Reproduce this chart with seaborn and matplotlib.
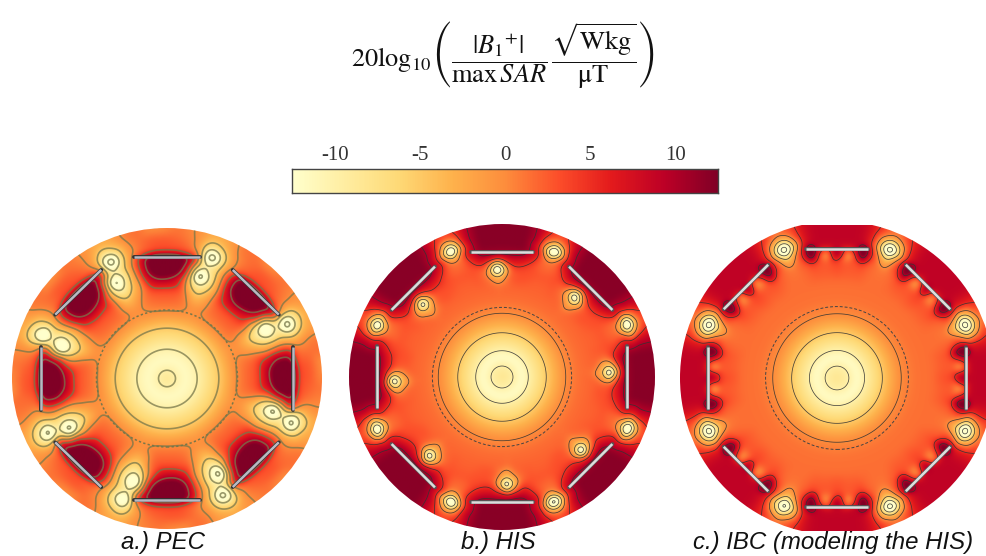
import numpy as np
import seaborn as sns
import matplotlib
matplotlib.use("Agg")
import matplotlib.pyplot as plt
import matplotlib.tri as mtri
from matplotlib.patches import Circle

# one 45 degree sector of each map (dB)
# angle is clockwise from the coil centre, radius is relative to the phantom radius
pec_angles = [0, 5, 10, 14, 17, 20, 24, 29, 34, 40]
pec_radii = [0, .06, .12, .20, .29, .34, .38, .44, .50, .58, .66, .72, .77, .81, .85, .90, .95, 1.0]
pec_values = [
    [-8.0] * 10,
    [-10.0] * 10,
    [-12.0] * 10,
    [-10.0] * 10,
    [-6.5] * 10,
    [-5.0] * 10,
    [-3.0] * 10,
    [-.2, -.2, -.2, -.4, -.6, -.6, -.5, -.3, -.2, -.2],
    [1.5, 1.5, 1.2, .5, -.3, -.4, -.2, .5, 1.2, 1.5],
    [3, 3, 2, -1.5, -4, -4.5, -2.5, .5, 2.5, 3],
    [10, 8, 1.5, -7, -10, -10, -6, -.8, 6.5, 10],
    [15, 14, 7, -9, -24, -15, -7, .5, 10, 15],
    [16, 15, 9, -3, -9, -9, -6, 1.5, 10, 16],
    [16, 16, 12, 6, -9, -10, -6.5, .5, 10, 16],
    [3, 3, 2.5, 0, -13, -24, -8, -1, 2, 3],
    [3, 2.5, 1, -3, -9, -11, -6.5, -.5, 1.5, 3],
    [2, 1.5, .5, -1.5, -4.5, -5, -3, .5, 1.5, 2],
    [-.5, 1, 0, -.5, -1.5, -1.5, -1, 1, 1.5, -1],
]

his_angles = [-22.5, -19, -15, -10, -6, -2.5, 1, 5, 10, 15, 19]
his_radii = [0, .08, .13, .17, .29, .41, .50, .58, .63, .67, .70, .74, .78, .80, .82, .85, .88, .92, .96, 1.0]
his_values = [
    [-8.0] * 11,
    [-10.0] * 11,
    [-12.5] * 11,
    [-10.0] * 11,
    [-5.0] * 11,
    [0.0] * 11,
    [1.5] * 11,
    [2, 2, 2, 2, 2, 1.5, 2, 2, 2, 2, 2],
    [2.2, 2.2, 2.5, 2, 1, -2, .5, 2.5, 3, 2.5, 2.2],
    [2.5, 2.5, 2.8, 1.5, -3, -7, -2, 2.5, 3, 3, 2.5],
    [2.8, 2.8, 3, 2, -5, -26, -5, 3, 3.5, 3, 2.8],
    [2, 2.5, 3.5, 5.5, 1, -6, 2, 6, 5.5, 3.5, 2.2],
    [1.5, 2, 5, 9, 9, 7, 8, 9, 8, 5, 2],
    [1, 2, 6, 10.5, 11, 11, 11, 10.5, 10, 6, 1.5],
    [-1, 2, 8, 11, 11, 11, 11, 11, 11, 8, 2],
    [-8, .5, 8, 12, 12, 12, 12, 12, 12, 8, .5],
    [-28, -5, 7, 12, 12, 12, 12, 12, 12, 7, -5],
    [-8, -.5, 9, 12, 12, 12, 12, 12, 12, 9, -.5],
    [1.5, 3, 9, 12, 12, 12, 12, 12, 12, 9, 3],
    [4, 6, 9, 12, 12, 12, 12, 12, 12, 9, 6],
]

ibc_angles = [-22.5, -19, -15, -12, -9, -5, 0, 5, 9, 12, 15, 19]
ibc_radii = [0, .085, .13, .175, .29, .40, .50, .60, .68, .74, .77, .80, .82, .85, .88, .92, .96, 1.0]
ibc_values = [
    [-8.0] * 12,
    [-10.0] * 12,
    [-12.5] * 12,
    [-10.0] * 12,
    [-5.0] * 12,
    [0.0] * 12,
    [1.3] * 12,
    [1.5] * 12,
    [1.5, 1.5, 2, 2.5, 2.5, 2.5, 3, 2.5, 2.5, 2.5, 2, 1.5],
    [1, 1.5, 2.5, 4, 3, 2.5, 4, 2.5, 3, 4, 2.5, 1.5],
    [-1, 1.5, 4, 12, 4, -2, 9, -2, 4, 12, 4, 1.5],
    [-3, 1, 6, 16, 7, -3, 14, -3, 7, 16, 6, 1],
    [-6, 0, 7, 17, 9, 3, 11, 3, 9, 17, 7, 0],
    [-13, -3, 6, 15, 9, 9, 9, 9, 9, 15, 6, -3],
    [-26, -8, 4, 8, 9, 9, 9, 9, 9, 8, 4, -8],
    [-12, -4, 5, 8, 9, 9, 9, 9, 9, 8, 5, -4],
    [-1, 1, 5.5, 8, 9, 9, 9, 9, 9, 8, 5.5, 1],
    [2, 3.5, 6, 8, 9, 9, 9, 9, 9, 8, 6, 3.5],
]

contour_levels = [-15, -10, -5, 0, 5, 10]
bar_ticks = [-10, -5, 0, 5, 10]
panel_titles = ["a.) PEC", "b.) HIS", "c.) IBC (modeling the HIS)"]
coil_angles = [0, 45, 90, 135, 180, 225, 270, 315]

W, H = 986, 556

sns.set_theme(style="white")
cmap = sns.color_palette("YlOrRd", as_cmap=True)
plt.rcParams["mathtext.fontset"] = "stix"


def px_axes(fig, left, top, right, bottom):
    return fig.add_axes([left / W, 1 - bottom / H, (right - left) / W, (bottom - top) / H])


def soften(z, mask, sigma):
    # the source maps are smooth, so take the corners off the coarse table
    k = np.arange(-int(4 * sigma), int(4 * sigma) + 1)
    k = np.exp(-.5 * (k / sigma) ** 2)
    k /= k.sum()
    blur = lambda a: np.apply_along_axis(np.convolve, 1, np.apply_along_axis(np.convolve, 0, a, k, "same"), k, "same")
    return blur(np.where(mask, 0, z)) / np.maximum(blur((~mask).astype(float)), 1e-6)


def draw_map(ax, angles, radii, values, coil_r, half_len, style):
    # repeat the sector around the 8 coils
    xs, ys, zs = [0.0], [0.0], [values[0][0]]
    for i, r in enumerate(radii):
        if i == 0:
            continue
        for c in coil_angles:
            for j, a in enumerate(angles):
                t = np.radians(c + a)
                xs.append(r * np.sin(t))
                ys.append(r * np.cos(t))
                zs.append(values[i][j])
    tri = mtri.Triangulation(xs, ys)
    interp = mtri.LinearTriInterpolator(tri, np.array(zs))
    gx = np.linspace(-1.02, 1.02, 613)
    X, Y = np.meshgrid(gx, gx)
    Z = interp(X, Y)
    Z = soften(Z.filled(0), np.ma.getmaskarray(Z), style["blur"])

    disc = Circle((0, 0), 1.0, transform=ax.transData)
    img = ax.imshow(Z, extent=[gx[0], gx[-1], gx[0], gx[-1]], origin="lower", aspect="auto",
                    cmap=cmap, vmin=-12.5, vmax=12.5, interpolation="bilinear")
    img.set_clip_path(disc)
    cs = ax.contour(X, Y, Z, levels=contour_levels, colors=style["line"],
                    linewidths=style["lw"], linestyles="solid", alpha=style["alpha"])
    cs.set_clip_path(disc)

    ax.add_patch(Circle((0, 0), .455, fill=False, ec=style["ring"], lw=style["ring_lw"], ls=style["ring_ls"]))

    for c in coil_angles:
        t = np.radians(c)
        cx, cy = coil_r * np.sin(t), coil_r * np.cos(t)
        dx, dy = half_len * np.cos(t), -half_len * np.sin(t)
        seg_x, seg_y = [cx - dx, cx + dx], [cy - dy, cy + dy]
        ax.plot(seg_x, seg_y, color=style["coil_edge"], lw=style["coil_lw"] + 1.0, solid_capstyle="round")
        ax.plot(seg_x, seg_y, color=style["coil"], lw=style["coil_lw"], solid_capstyle="butt")
    ax.set_axis_off()


fig = plt.figure(figsize=(W / 100, H / 100), dpi=100)

# equation
fig.text(503 / W, 1 - 55 / H,
         r"$20\mathrm{log}_{10}\left(\dfrac{|B_1{}^{+}|}{\mathrm{max}\,SAR}\,\dfrac{\sqrt{\mathrm{Wkg}}}{\mathrm{\mu T}}\right)$",
         fontsize=19, ha="center", va="center", color="#111111")

# colour bar
bar_ax = px_axes(fig, 292, 169, 718, 193)
bar_values = np.linspace(-12.5, 12.5, 256).reshape(1, -1)
sns.heatmap(bar_values, cmap=cmap, vmin=-12.5, vmax=12.5, cbar=False,
            xticklabels=False, yticklabels=False, ax=bar_ax)
for s in bar_ax.spines.values():
    s.set_visible(True)
    s.set_color("#444444")
    s.set_linewidth(1.0)
bar_ax.xaxis.tick_top()
bar_ax.set_xticks([(v + 12.5) / 25 * 256 for v in bar_ticks])
bar_ax.set_xticklabels(bar_ticks, family="Liberation Serif", fontsize=15, color="#333333")
bar_ax.tick_params(axis="x", direction="in", length=3, width=.8, color="#222222", pad=3, top=True, bottom=False)

# panel a is a blurred, slightly stretched screenshot in the source
pec_style = dict(line="#77774a", lw=1.2, alpha=.75, ring="#77774a", ring_lw=1.1, ring_ls=(0, (1.5, 1.5)),
                 coil="#b9b9c2", coil_edge="#333333", coil_lw=1.8, blur=7)
thin_style = dict(line="#333333", lw=.55, alpha=.9, ring="#444444", ring_lw=.7, ring_ls=(0, (3, 2)),
                  coil="#dddddd", coil_edge="#555555", coil_lw=1.8, blur=6)

ax_a = px_axes(fig, 12, 228, 322, 529)
draw_map(ax_a, pec_angles, pec_radii, pec_values, .81, .21, pec_style)
ax_a.set_xlim(-1, 1)
ax_a.set_ylim(-1, 1)

ax_b = px_axes(fig, 349, 224, 655, 530)
draw_map(ax_b, his_angles, his_radii, his_values, .82, .20, thin_style)
ax_b.set_xlim(-1, 1)
ax_b.set_ylim(-1, 1)

# panel c runs off the crop at the top, bottom and right
ax_c = px_axes(fig, 680, 225, 986, 531)
draw_map(ax_c, ibc_angles, ibc_radii, ibc_values, .82, .20, thin_style)
ax_c.set_xlim(-1, (986 - 837) / 157)
ax_c.set_ylim((378 - 531) / 157, (378 - 225) / 157)

for x, title in zip([163, 498, 833], panel_titles):
    fig.text(x / W, 1 - 543 / H, title, family="Liberation Sans", style="italic",
             fontsize=17.3, ha="center", va="center", color="#111111")

fig.savefig("out.png", dpi=100)
